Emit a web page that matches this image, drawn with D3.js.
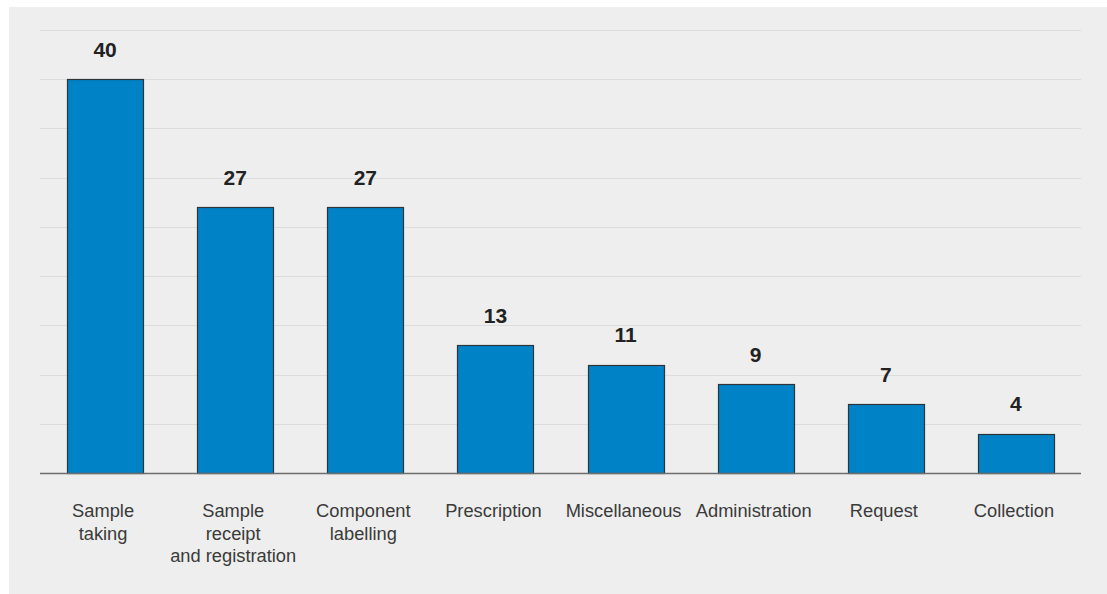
<!DOCTYPE html>
<html>
<head>
<meta charset="utf-8">
<script src="https://cdn.jsdelivr.net/npm/d3@7"></script>
<style>
  html, body { margin: 0; padding: 0; background: #ffffff; }
  svg { display: block; }
</style>
</head>
<body>
<svg id="chart" width="1107" height="594"></svg>
<script>
const categories = [
  ["Sample", "taking"],
  ["Sample", "receipt", "and registration"],
  ["Component", "labelling"],
  ["Prescription"],
  ["Miscellaneous"],
  ["Administration"],
  ["Request"],
  ["Collection"]
];
const values = [40, 27, 27, 13, 11, 9, 7, 4];
const gridTicks = [5, 10, 15, 20, 25, 30, 35, 40, 45];

(function () {
const svg = d3.select("#chart");
const W = 1107, H = 594;

svg.append("rect")
  .attr("x", 9).attr("y", 7)
  .attr("width", W - 9).attr("height", H - 7)
  .attr("fill", "#eeeeee");

const mLeft = 40, mRight = 1081, mTop = 30, mBottom = 473;

const x = d3.scaleBand()
  .domain(d3.range(categories.length))
  .range([mLeft, mRight])
  .paddingInner(0.415)
  .paddingOuter(0.2075);

const y = d3.scaleLinear().domain([0, 45]).range([mBottom, mTop]);

// gridlines
svg.append("g")
  .selectAll("line")
  .data(gridTicks)
  .join("line")
  .attr("x1", mLeft).attr("x2", mRight)
  .attr("y1", d => Math.round(y(d)) + 0.5)
  .attr("y2", d => Math.round(y(d)) + 0.5)
  .attr("stroke", "#dcdcdc")
  .attr("stroke-width", 1);

// bars
svg.append("g")
  .selectAll("rect")
  .data(values)
  .join("rect")
  .attr("x", (d, i) => Math.round(x(i)) + 0.5)
  .attr("y", d => Math.round(y(d)) + 0.5)
  .attr("width", Math.round(x.bandwidth()))
  .attr("height", d => Math.round(y(0)) - Math.round(y(d)))
  .attr("fill", "#0083c6")
  .attr("stroke", "#2f3438")
  .attr("stroke-width", 1.2);

// baseline
svg.append("line")
  .attr("x1", mLeft).attr("x2", mRight)
  .attr("y1", mBottom + 0.5).attr("y2", mBottom + 0.5)
  .attr("stroke", "#6e6e6e")
  .attr("stroke-width", 1.5);

// value labels
svg.append("g")
  .selectAll("text")
  .data(values)
  .join("text")
  .attr("x", (d, i) => x(i) + x.bandwidth() / 2)
  .attr("y", d => y(d) - 22.5)
  .attr("text-anchor", "middle")
  .attr("font-family", "Liberation Sans, Arial, Helvetica, sans-serif")
  .attr("font-weight", "bold")
  .attr("font-size", 21)
  .attr("fill", "#222222")
  .text(d => d);

// category labels
const catG = svg.append("g")
  .selectAll("text")
  .data(categories)
  .join("text")
  .attr("x", (d, i) => x(i) + x.bandwidth() / 2)
  .attr("y", 517)
  .attr("text-anchor", "middle")
  .attr("font-family", "Liberation Sans, Arial, Helvetica, sans-serif")
  .attr("font-size", 18.3)
  .attr("fill", "#3a3a3a");

catG.each(function (lines, i) {
  const t = d3.select(this);
  lines.forEach((ln, j) => {
    t.append("tspan")
      .attr("x", x(i) + x.bandwidth() / 2 - 2)
      .attr("dy", j === 0 ? 0 : 22.5)
      .text(ln);
  });
});
})();
</script>
</body>
</html>
